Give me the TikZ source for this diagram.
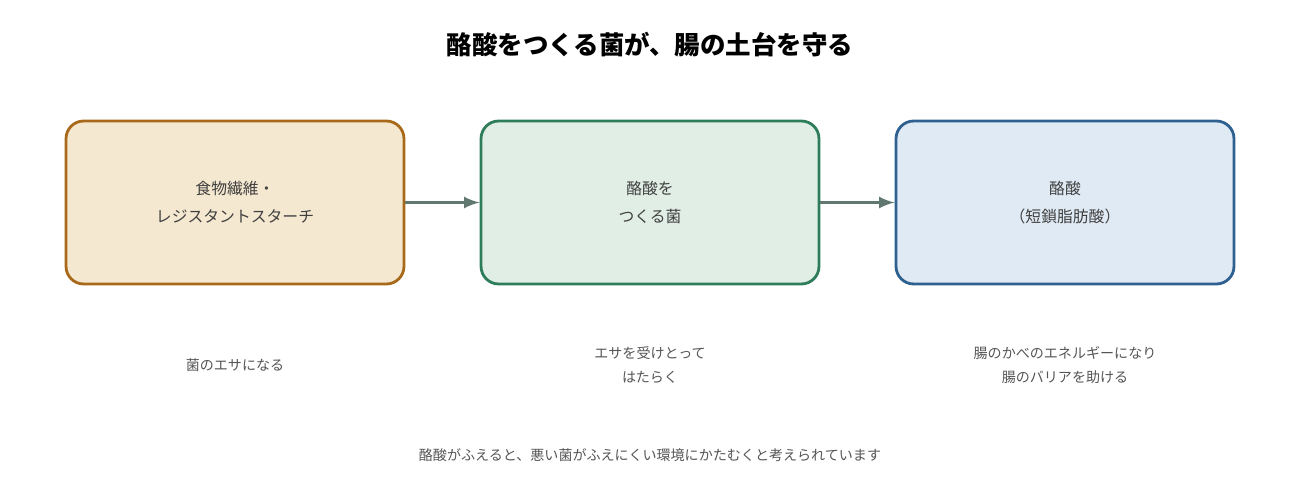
\documentclass[tikz,border=0pt]{standalone}
\usepackage{fontspec}
\setmainfont{Noto Sans CJK JP}
\newfontfamily\jpbold{Noto Sans CJK JP Bold}
\usetikzlibrary{positioning}
\definecolor{fiberfill}{HTML}{F5E8D0}
\definecolor{fiberline}{HTML}{A86A1A}
\definecolor{bactfill}{HTML}{E0EEE6}
\definecolor{bactline}{HTML}{2E7D5A}
\definecolor{acidfill}{HTML}{E0EAF4}
\definecolor{acidline}{HTML}{2E6190}
\definecolor{flowarrow}{HTML}{607870}
\definecolor{notegray}{HTML}{555555}
\tikzset{
  stage/.style={draw, rounded corners=10pt, line width=1.6pt, minimum width=6.76cm,
    minimum height=3.26cm, align=center, font=\fontsize{9}{16}\selectfont, text=black!75},
  note/.style={align=center, font=\fontsize{8}{14}\selectfont, text=notegray},
  flow/.style={-latex, line width=2pt, flowarrow}
}
\begin{document}
\begin{tikzpicture}[x=0.02cm, y=-0.02cm]
  \useasboundingbox (0, 0) rectangle (1300, 500);
  \node (title) at (650, 45) {\fontsize{14.5}{18}\selectfont\bfseries 酪酸をつくる菌が、腸の土台を守る};
  \node[stage, fill=fiberfill, draw=fiberline] (fiber) at (235, 202.5) {食物繊維・\\レジスタントスターチ};
  \node[stage, fill=bactfill, draw=bactline] (bact) at (650, 202.5) {酪酸を\\つくる菌};
  \node[stage, fill=acidfill, draw=acidline] (acid) at (1065, 202.5) {酪酸\\（短鎖脂肪酸）};
  \draw[flow] (fiber) -- (bact);
  \draw[flow] (bact) -- (acid);
  \node[note] (n1) at (235, 365) {菌のエサになる};
  \node[note] (n2) at (650, 365) {エサを受けとって\\はたらく};
  \node[note] (n3) at (1065, 365) {腸のかべのエネルギーになり\\腸のバリアを助ける};
  \node[note] (foot) at (650, 455) {酪酸がふえると、悪い菌がふえにくい環境にかたむくと考えられています};
\end{tikzpicture}
\end{document}
